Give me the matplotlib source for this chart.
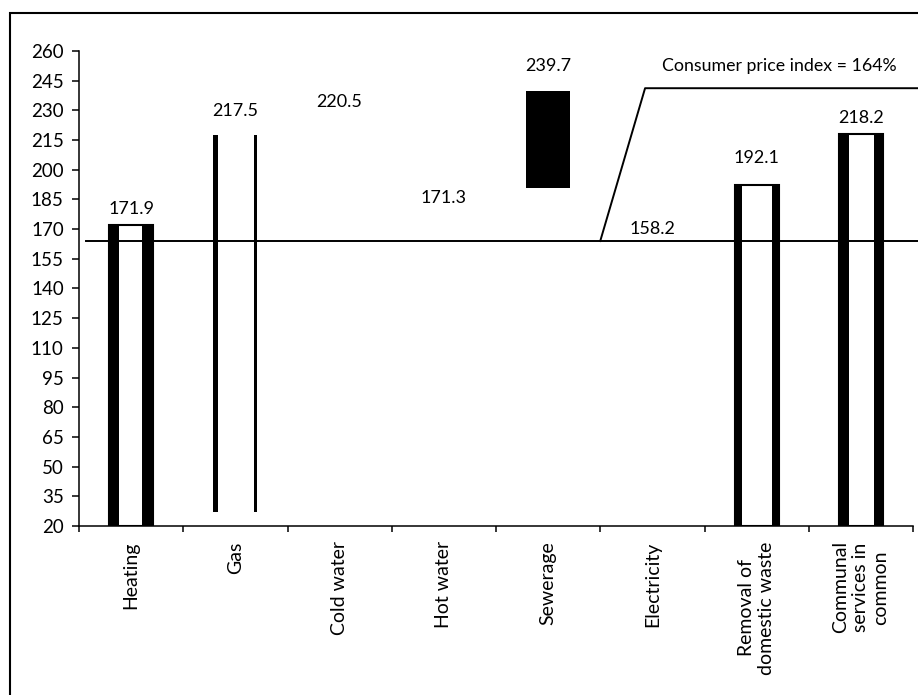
import matplotlib.pyplot as plt
from matplotlib.patches import Rectangle

plt.rcParams['font.family'] = ['Lato', 'DejaVu Sans']

# Price indices of housing services
categories = ["Heating", "Gas", "Cold water", "Hot water", "Sewerage",
              "Electricity", "Removal of\ndomestic waste",
              "Communal\nservices in\ncommon"]
index_values = [171.9, 217.5, 220.5, 171.3, 239.7, 158.2, 192.1, 218.2]
cpi = 164
y_ticks = list(range(20, 261, 15))

# how each column is rendered
styles = ["frame", "sides", None, None, "solid", None, "frame", "frame"]
side_px = [(10, 11), (5, 3), (0, 0), (0, 0), (0, 0), (0, 0), (7, 7), (10, 9)]
bar_floor = [20, 27, 20, 20, 191, 20, 20, 20]
label_offset_px = [16, 24, 27, 29, 25, 23, 27, 16]

W, H = 918, 695
fig = plt.figure(figsize=(W / 100, H / 100), dpi=100)
ax = fig.add_axes([79 / W, 1 - 526 / H, (913 - 79) / W, (526 - 51) / H])

ax.set_xlim(-0.5, len(categories) - 0.5)
ax.set_ylim(20, 260)
px = len(categories) / ((913 - 79))  # data units per pixel along x

bar_w = 0.42
x = list(range(len(categories)))
for i, (v, st) in enumerate(zip(index_values, styles)):
    h = v - bar_floor[i]
    if st == "solid":
        ax.bar(i, h, bottom=bar_floor[i], width=bar_w, color="black")
    elif st == "frame":
        ax.bar(i, h, bottom=bar_floor[i], width=bar_w, color="white",
               edgecolor="black", linewidth=1.5)
    if st in ("frame", "sides"):
        sl, sr = side_px[i]
        ax.bar(i - bar_w / 2 + sl * px / 2, h, bottom=bar_floor[i],
               width=sl * px, color="black")
        ax.bar(i + bar_w / 2 - sr * px / 2, h, bottom=bar_floor[i],
               width=sr * px, color="black")
    # value label above each column
    ax.annotate(f"{v:.1f}", (i, v), xytext=(0, label_offset_px[i]),
                textcoords="offset pixels", ha="center", va="center",
                fontsize=13)

# consumer price index line with callout
ax.plot([-0.43, 7.55], [cpi, cpi], color="black", lw=1.4, clip_on=False)
ax.plot([4.5, 4.93, 7.55], [cpi, 241.2, 241.2], color="black", lw=1.4,
        clip_on=False)
ax.text(6.22, 252.3, f"Consumer price index = {cpi}%", ha="center",
        va="center", fontsize=12.8)

ax.set_yticks(y_ticks)
ax.tick_params(axis="y", direction="out", length=5, width=1.1, pad=6,
               labelsize=13.5)
ax.set_xticks(x)
ax.set_xticklabels(categories, rotation=90, va="top", ha="center",
                   fontsize=14)
ax.set_xticks([i - 0.5 for i in range(len(categories) + 1)], minor=True)
ax.tick_params(axis="x", which="major", length=0, pad=11)
ax.tick_params(axis="x", which="minor", direction="out", length=4.5, width=1.1)

for s in ("top", "right"):
    ax.spines[s].set_visible(False)
for s in ("left", "bottom"):
    ax.spines[s].set_linewidth(1.1)

# outer chart border
fig.add_artist(Rectangle((10 / W, -0.1), 2, 1 - 13 / H + 0.1,
                         transform=fig.transFigure, fill=False,
                         edgecolor="black", lw=1.5))

fig.savefig("out.png", dpi=100)
